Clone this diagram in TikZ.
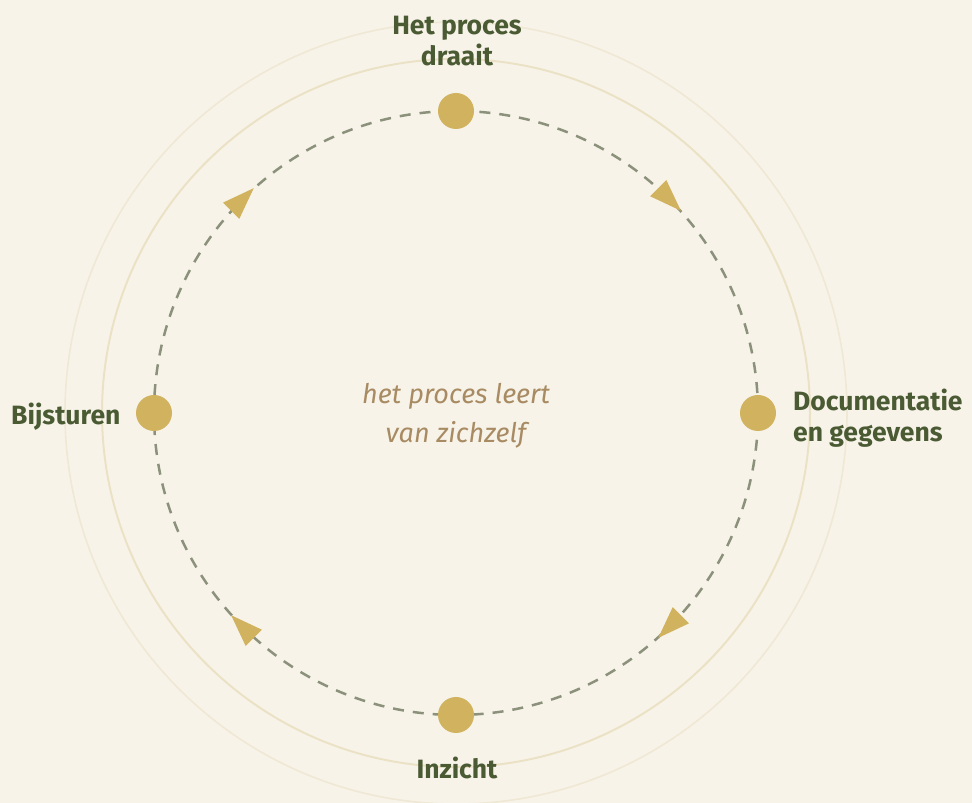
\documentclass[tikz,border=0pt]{standalone}
\usepackage{fontspec}
\setmainfont{Fira Sans}
\definecolor{bg}{HTML}{F7F3E9}
\definecolor{ringA}{HTML}{EBE2C6}
\definecolor{ringB}{HTML}{EFE8D4}
\definecolor{gold}{HTML}{D1B35F}
\definecolor{dashc}{HTML}{8C917B}
\definecolor{lbl}{HTML}{4A5A33}
\definecolor{mid}{HTML}{A88B62}
\tikzset{
  dot/.style={circle, fill=gold, minimum size=36pt, inner sep=0pt},
  lab/.style={text=lbl, font=\fontsize{26.5}{31}\selectfont\bfseries, inner sep=0pt},
  midtext/.style={text=mid, font=\fontsize{27}{39}\selectfont\itshape, inner sep=0pt, align=center},
  arrowtri/.style={fill=gold},
  cyc/.style={draw=dashc, line width=2.5pt, dash pattern=on 11pt off 9pt}
}
\begin{document}
\begin{tikzpicture}[x=1pt,y=1pt]
\fill[bg] (0,0) rectangle (972,803);
\useasboundingbox (0,0) rectangle (972,803);
\coordinate (c) at (456,390);
\begin{scope}
\clip (0,0) rectangle (972,803);
\draw[ringB, line width=1.6pt] (c) circle[radius=391pt];
\draw[ringA, line width=2pt] (c) circle[radius=354pt];
\end{scope}
\path[cyc] (c) circle[radius=302pt];
\begin{scope}[shift={(c)}]
\foreach \a in {45,-45,-135,135}{
  \fill[arrowtri, shift={(\a:302)}, rotate=\a-90] (16,0) -- (-16,11.5) -- (-16,-11.5) -- cycle;
}
\node[dot] (ntop) at (90:302) {};
\node[dot] (nright) at (0:302) {};
\node[dot] (nbottom) at (-90:302) {};
\node[dot] (nleft) at (180:302) {};
\end{scope}
\node[lab, align=center] (ltop) at (457,762) {Het proces\\draait};
\node[lab, align=left, anchor=west] (lright) at (793,385) {Documentatie\\en gegevens};
\node[lab, anchor=base west] (lleft) at (11,378) {Bijsturen};
\node[lab, anchor=base] (lbottom) at (457,24) {Inzicht};
\node[midtext] (center) at (456,387) {het proces leert\\van zichzelf};
\end{tikzpicture}
\end{document}
